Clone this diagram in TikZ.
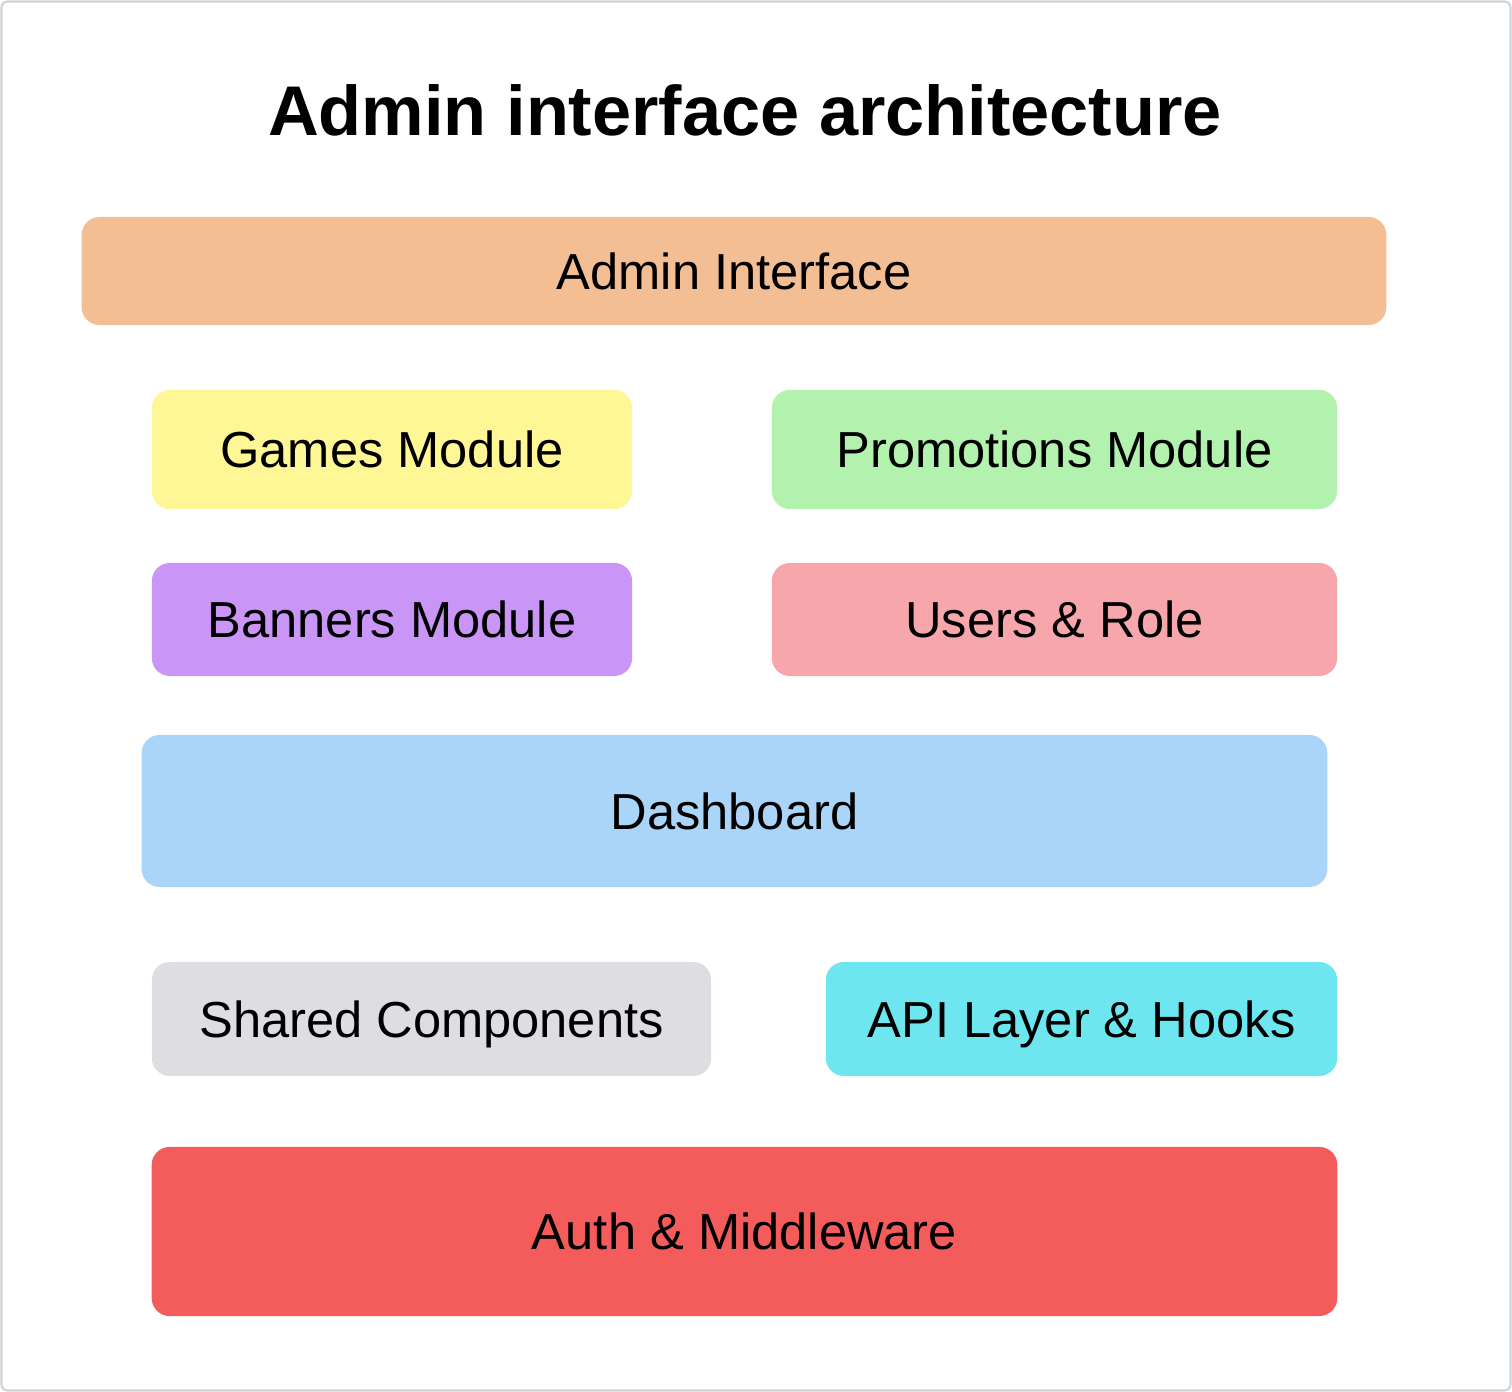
\documentclass[tikz,border=0pt]{standalone}
\usepackage{fontspec}
\setmainfont{Liberation Sans}
\usetikzlibrary{positioning}

\definecolor{cAdmin}{HTML}{F3BE93}
\definecolor{cGames}{HTML}{FFF796}
\definecolor{cPromo}{HTML}{B2F2AE}
\definecolor{cBanner}{HTML}{C996F7}
\definecolor{cUsers}{HTML}{F7A7AB}
\definecolor{cDash}{HTML}{AAD5F8}
\definecolor{cShared}{HTML}{DEDDE2}
\definecolor{cApi}{HTML}{6EE6F0}
\definecolor{cAuth}{HTML}{F45B5B}
\definecolor{cFrame}{HTML}{D0D4D9}

\tikzset{
layer/.style={rectangle, rounded corners=0.18cm, inner sep=0pt, text=black,
  text height=10.3pt, text depth=0pt,
  font=\fontsize{14.4}{17}\selectfont},
}

\begin{document}
\begin{tikzpicture}[x=0.01cm,y=-0.01cm]
\useasboundingbox (0,0) rectangle (1512,1392);
\draw[cFrame, line width=0.6pt, rounded corners=0.06cm] (1.5,1.5) rectangle (1510.5,1390.5);

\node[font=\bfseries\fontsize{20}{24}\selectfont, text height=14.3pt, text depth=0pt] at (745,110) (title) {Admin interface architecture};

\node[layer, fill=cAdmin, minimum width=13.04cm, minimum height=1.08cm] at (734,271) (admin) {Admin Interface};
\node[layer, fill=cGames, minimum width=4.80cm, minimum height=1.19cm] at (392,449.5) (games) {Games Module};
\node[layer, fill=cPromo, minimum width=5.65cm, minimum height=1.19cm] at (1054.5,449.5) (promo) {Promotions Module};
\node[layer, fill=cBanner, minimum width=4.80cm, minimum height=1.13cm] at (392,619.5) (banners) {Banners Module};
\node[layer, fill=cUsers, minimum width=5.65cm, minimum height=1.13cm] at (1054.5,619.5) (users) {Users \& Role};
\node[layer, fill=cDash, minimum width=11.85cm, minimum height=1.52cm] at (734.5,811) (dash) {Dashboard};
\node[layer, fill=cShared, minimum width=5.59cm, minimum height=1.14cm] at (431.5,1019) (shared) {Shared Components};
\node[layer, fill=cApi, minimum width=5.11cm, minimum height=1.14cm] at (1081.5,1019) (api) {API Layer \& Hooks};
\node[layer, fill=cAuth, minimum width=11.85cm, minimum height=1.69cm] at (744.5,1231.5) (auth) {Auth \& Middleware};
\end{tikzpicture}
\end{document}
